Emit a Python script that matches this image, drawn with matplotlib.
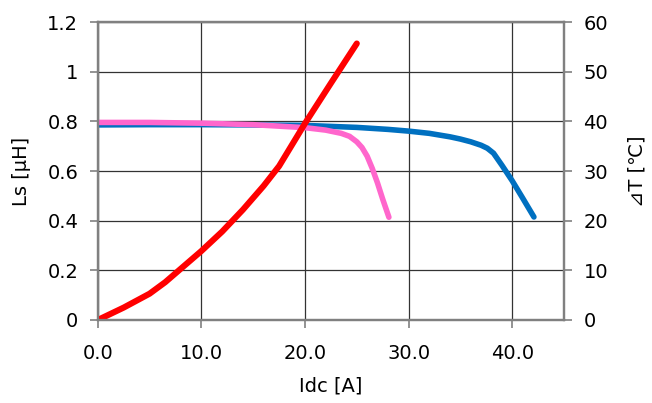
import matplotlib.pyplot as plt
from matplotlib.ticker import FuncFormatter

plt.rcParams['font.family'] = ['DejaVu Sans', 'Noto Sans CJK JP']

# Ls vs Idc (two parts) and temperature rise vs Idc
idc_blue = [0, 5, 10, 15, 20, 25, 28, 30, 32, 34, 35, 36, 37, 37.6, 38.2, 39, 40, 41, 42.1]
ls_blue = [0.786, 0.787, 0.787, 0.786, 0.784, 0.776, 0.768, 0.761, 0.752, 0.738, 0.729,
           0.718, 0.704, 0.692, 0.672, 0.624, 0.561, 0.492, 0.415]

idc_pink = [0, 5, 10, 15, 20, 22, 23.5, 24.3, 25, 25.5, 26, 26.5, 27, 27.5, 28.1]
ls_pink = [0.796, 0.796, 0.793, 0.787, 0.775, 0.765, 0.752, 0.740, 0.718, 0.695, 0.660,
           0.610, 0.552, 0.487, 0.414]

idc_red = [0, 2.5, 5, 6.5, 8, 10, 12, 14, 16, 17.5, 20, 22.5, 25]
dt_red = [0, 2.5, 5.3, 7.6, 10.3, 13.9, 17.8, 22.2, 27.0, 31.0, 39.6, 47.7, 55.7]

x_ticks = [0, 10, 20, 30, 40]
ls_ticks = [0, 0.2, 0.4, 0.6, 0.8, 1.0, 1.2]
dt_ticks = [0, 10, 20, 30, 40, 50, 60]

fig = plt.figure(figsize=(6.52, 4.03), dpi=100)
ax = fig.add_axes([0.150, 0.206, 0.715, 0.739])
ax2 = ax.twinx()

ax.plot(idc_blue, ls_blue, color='#0070C0', lw=4.0, solid_capstyle='round', solid_joinstyle='round')
ax.plot(idc_pink, ls_pink, color='#FF66CC', lw=4.0, solid_capstyle='round', solid_joinstyle='round')
ax2.plot(idc_red, dt_red, color='#FF0000', lw=4.4, solid_capstyle='round', solid_joinstyle='round')

ax.set_xlim(0, 45)
ax.set_ylim(0, 1.2)
ax2.set_ylim(0, 60)
ax.set_xticks(x_ticks)
ax.set_yticks(ls_ticks)
ax2.set_yticks(dt_ticks)
ax.xaxis.set_major_formatter(FuncFormatter(lambda v, p: f'{v:.1f}'))
ax.yaxis.set_major_formatter(FuncFormatter(lambda v, p: f'{v:g}'))

ax.grid(True, color='#333333', lw=0.9)
ax.set_axisbelow(True)

fs = 14
for a in (ax, ax2):
    for s in a.spines.values():
        s.set_color('#808080')
        s.set_linewidth(1.6)
    a.tick_params(colors='#808080', labelcolor='black', labelsize=fs, length=6, width=1.2, pad=8)
ax.tick_params(axis='x', pad=11)

ax.set_xlabel('Idc [A]', fontsize=fs, labelpad=10)
ax.set_ylabel('Ls [μH]', fontsize=fs, labelpad=12)
ax2.set_ylabel('⊿T [℃]', fontsize=fs, labelpad=14)

fig.savefig('out.png', dpi=100)
